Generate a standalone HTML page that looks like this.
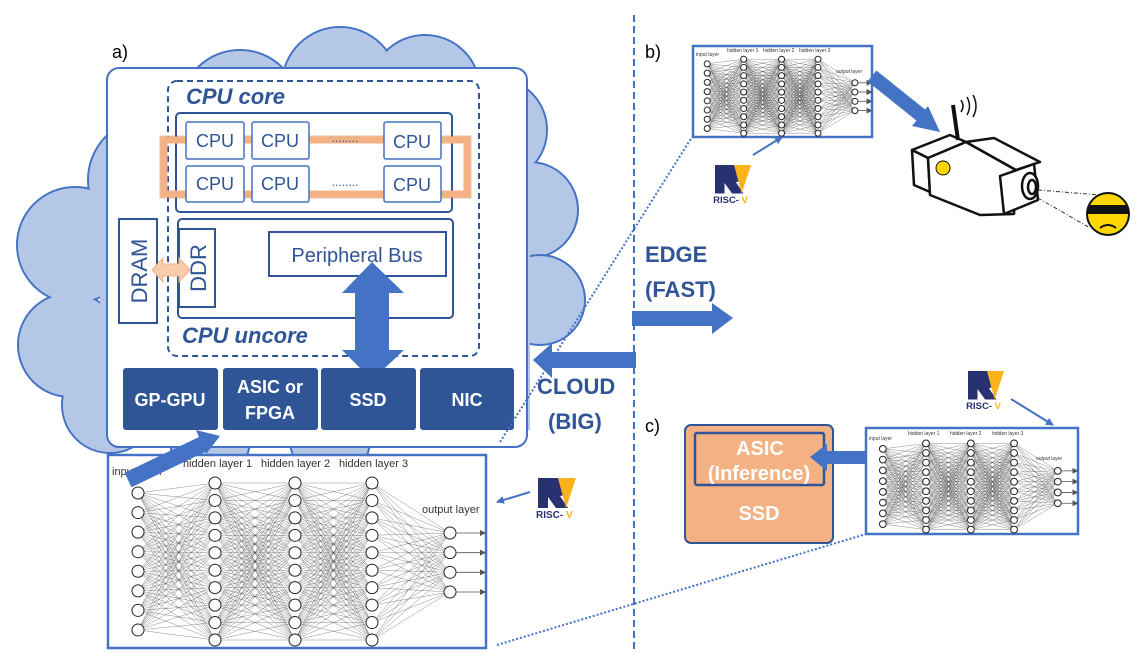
<!DOCTYPE html>
<html><head><meta charset="utf-8">
<style>
html,body{margin:0;padding:0;background:#fff;}
svg{display:block;}
text{font-family:"Liberation Sans",sans-serif;}
.nnt{font-family:"Liberation Serif",serif;fill:#333;}
</style></head>
<body>
<svg id="s" width="1137" height="653" viewBox="0 0 1137 653" xmlns="http://www.w3.org/2000/svg">
<defs>
<marker id="ah" markerWidth="8" markerHeight="8" refX="7" refY="4" orient="auto" markerUnits="userSpaceOnUse"><path d="M0,0 L8,4 L0,8 z" fill="#4472c4"/></marker>
<marker id="sa" markerWidth="6" markerHeight="6" refX="5" refY="3" orient="auto" markerUnits="userSpaceOnUse"><path d="M0,0 L6,3 L0,6 z" fill="#555"/></marker>
</defs>
<!-- cloud -->
<g fill="#b4c7e7" stroke="#4472c4" stroke-width="2">
<circle cx="150" cy="180" r="62"/>
<circle cx="240" cy="110" r="60"/>
<circle cx="340" cy="85" r="58"/>
<circle cx="425" cy="90" r="55"/>
<circle cx="495" cy="130" r="52"/>
<circle cx="530" cy="210" r="48"/>
<circle cx="540" cy="300" r="45"/>
<circle cx="75" cy="245" r="58"/>
<circle cx="70" cy="345" r="52"/>
<circle cx="110" cy="405" r="48"/>
<circle cx="210" cy="440" r="40"/>
<circle cx="330" cy="440" r="40"/>
</g>
<g fill="#b4c7e7"><circle cx="150" cy="180" r="61"/><circle cx="75" cy="245" r="57"/><circle cx="70" cy="345" r="51"/><circle cx="240" cy="110" r="59"/><circle cx="340" cy="85" r="57"/><circle cx="425" cy="90" r="54"/><circle cx="495" cy="130" r="51"/><circle cx="110" cy="405" r="47"/><rect x="100" y="165" width="430" height="265"/></g>
<text x="112" y="58" font-size="18" fill="#000">a)</text>
<!-- main box -->
<rect x="107" y="68" width="420" height="379" rx="12" fill="#fff" stroke="#4472c4" stroke-width="2"/>
<rect x="168" y="81" width="311" height="275" rx="9" fill="none" stroke="#2f5597" stroke-width="2" stroke-dasharray="6,4"/>
<text x="186" y="104" font-size="22" font-weight="bold" font-style="italic" fill="#2f5597">CPU core</text>
<rect x="176" y="113" width="276" height="99" rx="4" fill="none" stroke="#2f5597" stroke-width="2"/>
<rect x="164" y="140" width="303" height="54" fill="none" stroke="#f4b183" stroke-width="7"/>
<rect x="160" y="136" width="311" height="62" fill="none" stroke="#c55a11" stroke-width="0.6" opacity="0.6"/>
<g fill="#fff" stroke="#4472c4" stroke-width="1.5">
<rect x="186" y="122" width="58" height="37" rx="2"/><rect x="252" y="122" width="57" height="37" rx="2"/><rect x="384" y="122" width="57" height="37" rx="2"/>
<rect x="186" y="166" width="58" height="36" rx="2"/><rect x="252" y="166" width="57" height="36" rx="2"/><rect x="384" y="166" width="57" height="36" rx="2"/>
</g>
<g font-size="18" fill="#2f5597" text-anchor="middle">
<text x="215" y="147">CPU</text><text x="280" y="147">CPU</text><text x="412" y="148">CPU</text>
<text x="215" y="190">CPU</text><text x="280" y="190">CPU</text><text x="412" y="191">CPU</text>
<text x="345" y="142" font-size="12">........</text><text x="345" y="186" font-size="12">........</text>
</g>
<rect x="178" y="219" width="275" height="99" rx="4" fill="none" stroke="#2f5597" stroke-width="2"/>
<rect x="179" y="229" width="36" height="78" fill="#fff" stroke="#2f5597" stroke-width="2"/>
<text transform="translate(206,268) rotate(-90)" font-size="22" fill="#2f5597" text-anchor="middle">DDR</text>
<rect x="119" y="219" width="38" height="104" fill="#fff" stroke="#2f5597" stroke-width="2"/>
<text transform="translate(147,271) rotate(-90)" font-size="22" fill="#2f5597" text-anchor="middle">DRAM</text>
<rect x="269" y="232" width="177" height="44" fill="#fff" stroke="#2f5597" stroke-width="2"/>
<text x="357" y="262" font-size="20" fill="#2f5597" text-anchor="middle">Peripheral Bus</text>
<polygon points="152,270 163,258 163,264 179,264 179,258 190,270 179,282 179,276 163,276 163,282" fill="#f8cbad" stroke="#f4b183"/>
<text x="182" y="343" font-size="22" font-weight="bold" font-style="italic" fill="#2f5597">CPU uncore</text>
<polygon points="372,262 404,293 389,293 389,350 404,350 372,380 342,350 355,350 355,293 342,293" fill="#4472c4"/>
<g fill="#2f5597"><rect x="123" y="368" width="95" height="62" rx="3"/><rect x="223" y="368" width="95" height="62" rx="3"/><rect x="321" y="368" width="95" height="62" rx="3"/><rect x="420" y="368" width="94" height="62" rx="3"/></g>
<g fill="#fff" font-size="18" font-weight="bold" text-anchor="middle">
<text x="170" y="406">GP-GPU</text><text x="270" y="393">ASIC or</text><text x="270" y="419">FPGA</text><text x="368" y="406">SSD</text><text x="467" y="406">NIC</text>
</g>
<!-- dashed divider -->
<line x1="634" y1="15" x2="634" y2="653" stroke="#4472c4" stroke-width="2" stroke-dasharray="7,4"/>
<!-- dotted lines -->
<line x1="500" y1="442" x2="692" y2="137" stroke="#4472c4" stroke-width="2" stroke-dasharray="2,2"/>
<line x1="497" y1="645" x2="866" y2="534" stroke="#4472c4" stroke-width="2" stroke-dasharray="2,2"/>
<!-- NN boxes -->
<rect x="108" y="455" width="378" height="193" fill="#fff" stroke="#4472c4" stroke-width="2.5"/>
<rect x="693" y="46" width="179" height="91" fill="#fff" stroke="#4472c4" stroke-width="2.5"/>
<rect x="866" y="428" width="212" height="106" fill="#fff" stroke="#4472c4" stroke-width="2.5"/>
<g id="nns"></g>
<g class="nnt" font-size="11">
<text x="112" y="475">input layer</text><text x="183" y="467">hidden layer 1</text><text x="261" y="467">hidden layer 2</text><text x="339" y="467">hidden layer 3</text><text x="422" y="513">output layer</text>
</g>
<g class="nnt" font-size="5">
<text x="696" y="56">input layer</text><text x="727" y="52">hidden layer 1</text><text x="763" y="52">hidden layer 2</text><text x="799" y="52">hidden layer 3</text><text x="836" y="73">output layer</text>
<text x="869" y="440">input layer</text><text x="908" y="435">hidden layer 1</text><text x="950" y="435">hidden layer 2</text><text x="992" y="435">hidden layer 3</text><text x="1036" y="460">output layer</text>
</g>
<!-- blue arrow into box a -->
<line x1="128" y1="480" x2="205" y2="443" stroke="#4472c4" stroke-width="16"/>
<polygon points="220,436 196,430 206,454" fill="#4472c4"/>
<!-- CLOUD arrow -->
<polygon points="636,352 552,352 552,343 533,360 552,378 552,368 636,368" fill="#4472c4"/>
<text x="537" y="394" font-size="22" font-weight="bold" fill="#2f5597">CLOUD</text>
<text x="548" y="429" font-size="22" font-weight="bold" fill="#2f5597">(BIG)</text>
<!-- EDGE -->
<text x="645" y="262" font-size="22" font-weight="bold" fill="#2f5597">EDGE</text>
<text x="645" y="297" font-size="22" font-weight="bold" fill="#2f5597">(FAST)</text>
<polygon points="632,311 712,311 712,303 733,318 712,334 712,326 632,326" fill="#4472c4"/>
<text x="645" y="58" font-size="18" fill="#000">b)</text>
<text x="645" y="432" font-size="18" fill="#000">c)</text>
<!-- b arrow to camera -->
<line x1="872" y1="76" x2="922" y2="116" stroke="#4472c4" stroke-width="14"/>
<polygon points="940,132 912,126 928,106" fill="#4472c4"/>
<!-- camera -->
<g stroke="#111" stroke-width="2.5" fill="#fff" stroke-linejoin="round">
<polygon points="912,150 950,135 966,142 928,158"/>
<polygon points="912,150 928,158 930,192 914,185"/>
<polygon points="928,158 966,142 1016,170 1014,214 980,215 930,195"/>
<polygon points="966,142 1016,170 1040,162 994,138"/>
<polygon points="1000,176 1034,164 1038,200 1004,214"/>
<ellipse cx="1030" cy="186" rx="8" ry="13"/>
<ellipse cx="1032" cy="187" rx="4" ry="7"/>
</g>
<line x1="958" y1="140" x2="953" y2="105" stroke="#111" stroke-width="4"/>
<g fill="none" stroke="#111" stroke-width="1.5"><path d="M961,100 q4,6 0,12"/><path d="M967,97 q5,9 0,18"/><path d="M973,95 q6,11 0,22"/></g>
<circle cx="943" cy="168" r="7" fill="#ffd700" stroke="#111"/>
<g stroke="#333" stroke-width="1" stroke-dasharray="4,2,1,2"><line x1="1038" y1="190" x2="1100" y2="195"/><line x1="1038" y1="198" x2="1090" y2="228"/></g>
<circle cx="1108" cy="214" r="21" fill="#ffd700" stroke="#111" stroke-width="2"/>
<rect x="1088" y="205" width="40" height="9" fill="#111"/>
<path d="M1100,228 q8,-6 16,0" fill="none" stroke="#111" stroke-width="2"/>
<!-- c SSD -->
<rect x="685" y="425" width="148" height="118" rx="6" fill="#f4b183" stroke="#2f5597" stroke-width="2"/>
<rect x="695" y="433" width="129" height="52" rx="2" fill="#f4b183" stroke="#2f5597" stroke-width="2.5"/>
<g fill="#fff" font-size="20" font-weight="bold" text-anchor="middle"><text x="760" y="455">ASIC</text><text x="759" y="480">(Inference)</text><text x="759" y="520">SSD</text></g>
<polygon points="866,451 827,451 827,444 810,457 827,471 827,464 866,464" fill="#4472c4"/>
<!-- RISC-V logos -->
<g id="rv"></g>
<line x1="530" y1="492" x2="497" y2="502" stroke="#4472c4" stroke-width="2" marker-end="url(#ah)"/>
<line x1="753" y1="155" x2="782" y2="137" stroke="#4472c4" stroke-width="2" marker-end="url(#ah)"/>
<line x1="1011" y1="399" x2="1053" y2="425" stroke="#4472c4" stroke-width="2" marker-end="url(#ah)"/>
</svg>
<script>
var NS="http://www.w3.org/2000/svg",g=document.getElementById("nns");
function el(t,a,p){var e=document.createElementNS(NS,t);for(var k in a)e.setAttribute(k,a[k]);(p||g).appendChild(e);return e;}
function nn(ox,oy,sx,sy,r){
 var L=[[30,38,175,8],[107,28,185,10],[187,28,185,10],[264,28,185,10],[342,78,137,4]];
 var P=L.map(function(l){var a=[];for(var i=0;i<l[3];i++)a.push([ox+l[0]*sx,oy+(l[1]+(l[2]-l[1])*i/(l[3]-1))*sy]);return a;});
 var s="";
 for(var k=0;k<4;k++)P[k].forEach(function(a){P[k+1].forEach(function(b){s+="M"+a[0].toFixed(1)+","+a[1].toFixed(1)+"L"+b[0].toFixed(1)+","+b[1].toFixed(1);});});
 el("path",{d:s,stroke:"#333","stroke-width":0.35,fill:"none",opacity:0.8});
 P.forEach(function(l){l.forEach(function(p){el("circle",{cx:p[0],cy:p[1],r:r,fill:"#fff",stroke:"#222","stroke-width":1});});});
 P[4].forEach(function(p){el("line",{x1:p[0]+r,y1:p[1],x2:p[0]+35*sx,y2:p[1],stroke:"#555","stroke-width":0.8,"marker-end":"url(#sa)"});});
}
nn(108,455,1,1,6);
nn(693,46,179/378,91/193,3);
nn(866,428,212/378,106/193,3.4);
var rv=document.getElementById("rv");
function logo(x,y,s){
 var gg=el("g",{transform:"translate("+x+","+y+") scale("+s+")"},rv);
 el("path",{d:"M0,0 L22,0 Q30,0 30,9 Q30,17 22,18 L30,30 L18,30 L10,19 L10,30 L0,30 Z",fill:"#283272"},gg);
 el("path",{d:"M20,0 L38,0 L28,30 Z",fill:"#fbb21b"},gg);
 var t=el("text",{x:-2,y:40,"font-size":10,"font-weight":"bold",fill:"#283272"},gg);t.textContent="RISC-";
 var t2=el("text",{x:28,y:40,"font-size":10,"font-weight":"bold",fill:"#fbb21b"},gg);t2.textContent="V";
}
logo(538,478,1);logo(715,165,0.95);logo(968,371,0.95);
</script>
</body></html>
